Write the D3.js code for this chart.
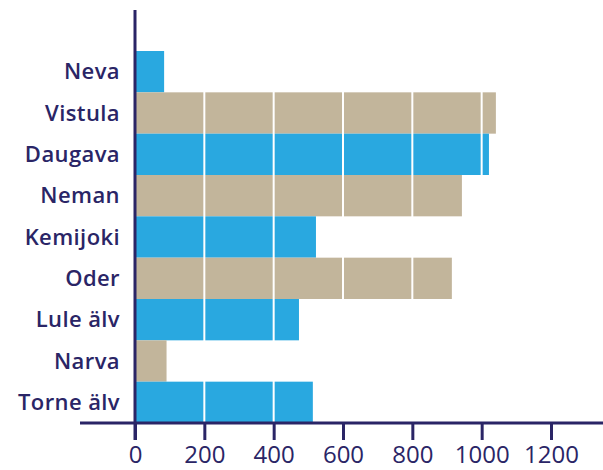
<!DOCTYPE html>
<html lang="en">
  <head>
    <meta charset="UTF-8"/>
    <title>Baltic rivers</title>
    <script src="https://d3js.org/d3.v7.min.js"></script>
    <style>
      body { margin: 0; background: #fff; }
      text { font-family: 'Open Sans', sans-serif; fill: #2a2566; }
      .cat text { font-size: 22px; font-weight: 600; letter-spacing: 0.4px; }
      .xaxis text { font-size: 24px; }
    </style>
  </head>
  <body>
    <script type="text/javascript">

      const rivers = ["Neva", "Vistula", "Daugava", "Neman", "Kemijoki", "Oder", "Lule älv", "Narva", "Torne älv"]
      const values = [84, 1041, 1021, 943, 522, 914, 473, 91, 513]
      const tickValues = [0, 200, 400, 600, 800, 1000, 1200]
      const gridValues = [200, 400, 600, 800, 1000, 1200]

      const navy = "#2a2566",
            blue = "#29a8e0",
            tan = "#c2b59b"

      const outerWidth = 603,
            outerHeight = 470

      const svg = d3.select("body").append("svg")
          .attr("width", outerWidth)
          .attr("height", outerHeight)

      const xScale = d3.scaleLinear()
          .domain([0, 1350])
          .range([135, 603])

      const yScale = d3.scaleBand()
          .domain(rivers)
          .range([51, 423])
          .padding(0)

      // bars, alternating blue / tan
      svg.selectAll("rect.bar")
          .data(rivers)
          .join("rect")
          .attr("class", "bar")
          .attr("x", xScale(0))
          .attr("y", d => yScale(d))
          .attr("width", (d, i) => xScale(values[i]) - xScale(0))
          .attr("height", yScale.bandwidth())
          .attr("fill", (d, i) => i % 2 === 0 ? blue : tan)

      // white grid lines over the bars
      svg.selectAll("line.grid")
          .data(gridValues)
          .join("line")
          .attr("class", "grid")
          .attr("x1", d => xScale(d))
          .attr("x2", d => xScale(d))
          .attr("y1", 51)
          .attr("y2", 423)
          .attr("stroke", "#fff")
          .attr("stroke-width", 2)

      // x axis
      const xAxisG = svg.append("g")
          .attr("class", "xaxis")
          .attr("transform", "translate(0,423)")
          .call(d3.axisBottom(xScale)
              .tickValues(tickValues)
              .tickFormat(d3.format("d"))
              .tickSize(17)
              .tickPadding(6)
              .tickSizeOuter(0))

      xAxisG.select(".domain").remove()
      xAxisG.selectAll(".tick line").attr("stroke", navy).attr("stroke-width", 3)
      xAxisG.selectAll(".tick text").attr("fill", navy)

      xAxisG.append("line")
          .attr("x1", 80)
          .attr("x2", 603)
          .attr("stroke", navy)
          .attr("stroke-width", 3)

      // y axis line
      svg.append("line")
          .attr("x1", xScale(0))
          .attr("x2", xScale(0))
          .attr("y1", 10)
          .attr("y2", 440)
          .attr("stroke", navy)
          .attr("stroke-width", 3)

      // category labels
      svg.append("g")
          .attr("class", "cat")
          .selectAll("text")
          .data(rivers)
          .join("text")
          .attr("x", 120)
          .attr("y", d => yScale(d) + yScale.bandwidth() / 2)
          .attr("dy", "0.35em")
          .attr("text-anchor", "end")
          .text(d => d)

    </script>
  </body>
</html>
